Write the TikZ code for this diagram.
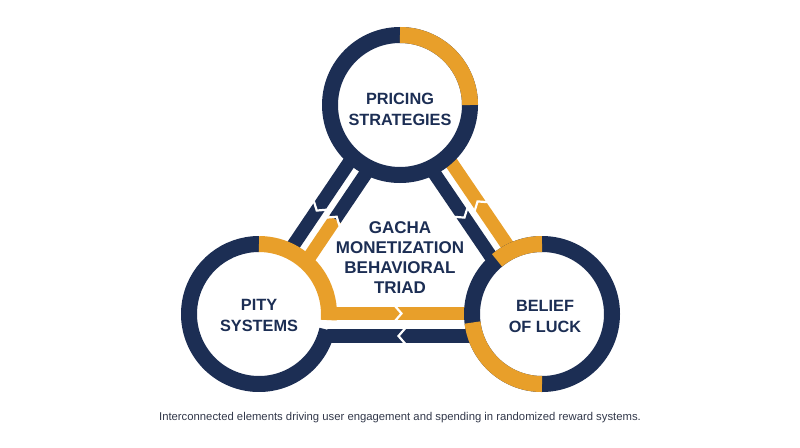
\documentclass[tikz,border=0pt]{standalone}
\usepackage{fontspec}
\setmainfont{Liberation Sans}
\usetikzlibrary{calc}
\definecolor{navy}{RGB}{28,46,84}
\definecolor{gold}{RGB}{232,159,42}
\definecolor{capgray}{RGB}{50,56,74}
\begin{document}
\begin{tikzpicture}[x=1pt,y=-1pt,
  ring/.style={line width=16pt},
  band/.style={line width=13.5pt},
  chev/.style={white, line width=2.2pt, line join=miter},
  lbl/.style={font=\fontsize{16.3}{21}\selectfont\bfseries, text=navy, align=center},
  captext/.style={font=\fontsize{11.3}{14}\selectfont, text=capgray}]
\useasboundingbox[fill=white] (0,0) rectangle (800,447);
\coordinate (C1) at (400,105);
\coordinate (C2) at (259,314);
\coordinate (C3) at (542,314);
% ---------- left side (Pity -> Pricing) ----------
\begin{scope}[shift={(329.5,209.5)}, rotate=56]
  \coordinate (Lo) at (0,-10);
  \coordinate (Li) at (0,10);
  \draw[band, navy] (-126,-10) -- (126,-10);
  \draw[band, navy] (-5,10) -- (126,10);
  \draw[band, gold] (-126,10) -- (-5,10);
  \draw[chev] (-2,-17.5) -- (-8,-10) -- (-2,-2.5);
  \draw[chev] (-8,2.5) -- (-2,10) -- (-8,17.5);
\end{scope}
% ---------- right side (Pricing -> Belief) ----------
\begin{scope}[shift={(471,209.5)}, rotate=-55.8]
  \coordinate (Ro) at (0,-10);
  \coordinate (Ri) at (0,10);
  \draw[band, gold] (-127,-10) -- (127,-10);
  \draw[band, navy] (-127,10) -- (127,10);
  \draw[chev] (3,-17.5) -- (-3,-10) -- (3,-2.5);
  \draw[chev] (-3,2.5) -- (3,10) -- (-3,17.5);
\end{scope}
% ---------- bottom side (Pity -> Belief) ----------
\coordinate (Bi) at (400,313.5);
\coordinate (Bo) at (400,336);
\draw[band, gold] (259,313.5) -- (542,313.5);
\draw[band, navy] (259,336) -- (542,336);
\draw[chev] (395,306) -- (401.5,313.5) -- (395,321);
\draw[chev] (405,328.5) -- (398.5,336) -- (405,343.5);
% ---------- circles ----------
\foreach \c in {C1,C2,C3} \fill[white] (\c) circle (70);
\draw[ring, navy] (C1) circle (70);
\draw[ring, gold] ($(C1)+(-90:70)$) arc[start angle=-90, end angle=0, radius=70];
\draw[ring, navy] ($(C2)+(13:70)$) arc[start angle=13, end angle=270, radius=70];
\draw[ring, gold] ($(C2)+(-90:70)$) arc[start angle=-90, end angle=5, radius=70];
\draw[ring, navy] (C3) circle (70);
\draw[ring, gold] ($(C3)+(90:70)$) arc[start angle=90, end angle=173, radius=70];
\draw[ring, gold] ($(C3)+(-130:70)$) arc[start angle=-130, end angle=-90, radius=70];
% ---------- labels ----------
\node[lbl] (pricing) at (400,109.5) {PRICING\\STRATEGIES};
\node[lbl] (pity) at (259,315.5) {PITY\\SYSTEMS};
\node[lbl] (belief) at (545,316) {BELIEF\\OF LUCK};
\node[lbl, font=\fontsize{17}{20}\selectfont\bfseries] (triad) at (400,258) {GACHA\\MONETIZATION\\BEHAVIORAL\\TRIAD};
\node[captext] (caption) at (400,418) {Interconnected elements driving user engagement and spending in randomized reward systems.};
\end{tikzpicture}
\end{document}
